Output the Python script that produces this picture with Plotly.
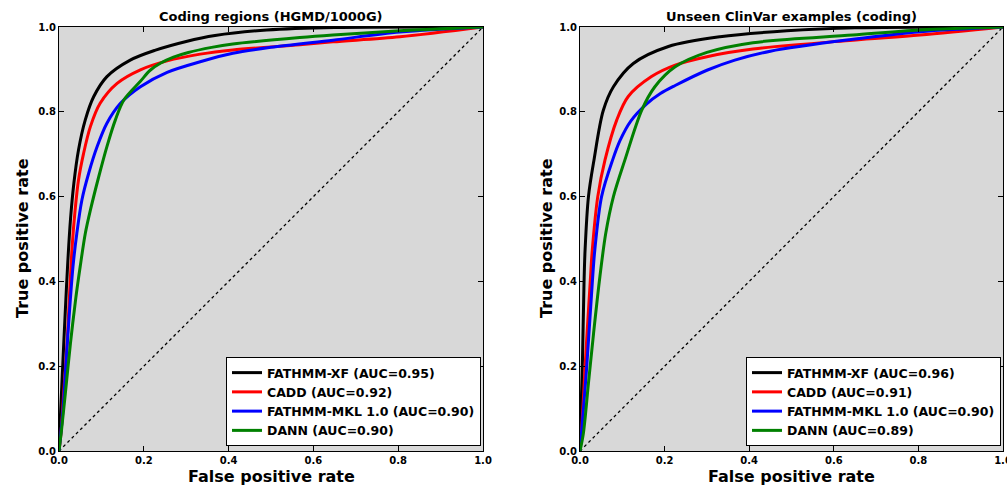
import plotly.graph_objects as go

# ---------------- data ----------------
panel_titles = ["Coding regions (HGMD/1000G)", "Unseen ClinVar examples (coding)"]
model_names = ["FATHMM-XF", "CADD", "FATHMM-MKL 1.0", "DANN"]
model_colors = ["black", "red", "blue", "green"]

auc_left = [0.95, 0.92, 0.90, 0.90]
auc_right = [0.96, 0.91, 0.90, 0.89]

# Left panel: Coding regions (HGMD/1000G)
xf_fpr_l = [0, 0.003, 0.0094, 0.015, 0.021, 0.027, 0.035, 0.046, 0.062, 0.082, 0.113, 0.168, 0.226, 0.30, 0.368, 0.49, 0.65, 1.0]
xf_tpr_l = [0, 0.073, 0.215, 0.333, 0.450, 0.545, 0.631, 0.710, 0.781, 0.836, 0.883, 0.922, 0.945, 0.966, 0.980, 0.993, 0.999, 1.0]

cadd_fpr_l = [0, 0.0047, 0.011, 0.019, 0.025, 0.031, 0.038, 0.046, 0.058, 0.074, 0.097, 0.137, 0.192, 0.255, 0.333, 0.41, 0.568, 0.646, 0.804, 1.0]
cadd_tpr_l = [0, 0.042, 0.136, 0.254, 0.372, 0.482, 0.568, 0.639, 0.702, 0.765, 0.820, 0.867, 0.899, 0.920, 0.936, 0.946, 0.958, 0.965, 0.977, 1.0]

mkl_fpr_l = [0, 0.0094, 0.017, 0.025, 0.033, 0.042, 0.054, 0.070, 0.090, 0.113, 0.145, 0.192, 0.255, 0.333, 0.41, 0.50, 0.646, 0.804, 1.0]
mkl_tpr_l = [0, 0.097, 0.215, 0.333, 0.435, 0.513, 0.592, 0.655, 0.718, 0.773, 0.820, 0.859, 0.893, 0.918, 0.938, 0.952, 0.969, 0.988, 1.0]

dann_fpr_l = [0, 0.006, 0.015, 0.027, 0.039, 0.050, 0.062, 0.074, 0.094, 0.113, 0.133, 0.153, 0.192, 0.215, 0.24, 0.27, 0.305, 0.36, 0.41, 0.568, 0.646, 0.804, 1.0]
dann_tpr_l = [0, 0.050, 0.136, 0.254, 0.356, 0.435, 0.513, 0.568, 0.648, 0.718, 0.781, 0.828, 0.872, 0.898, 0.915, 0.929, 0.940, 0.952, 0.960, 0.975, 0.981, 0.991, 1.0]

# Right panel: Unseen ClinVar examples (coding)
xf_fpr_r = [0, 0.002, 0.0055, 0.0095, 0.012, 0.020, 0.033, 0.055, 0.079, 0.126, 0.209, 0.331, 0.489, 0.65, 1.0]
xf_tpr_r = [0, 0.08, 0.199, 0.396, 0.474, 0.600, 0.686, 0.803, 0.859, 0.914, 0.954, 0.977, 0.991, 0.998, 1.0]

cadd_fpr_r = [0, 0.004, 0.012, 0.024, 0.029, 0.042, 0.059, 0.087, 0.114, 0.169, 0.225, 0.30, 0.409, 0.645, 0.804, 1.0]
cadd_tpr_r = [0, 0.05, 0.199, 0.396, 0.474, 0.600, 0.686, 0.781, 0.836, 0.883, 0.910, 0.930, 0.948, 0.969, 0.981, 1.0]

mkl_fpr_r = [0, 0.005, 0.016, 0.029, 0.035, 0.051, 0.077, 0.095, 0.120, 0.157, 0.190, 0.225, 0.30, 0.366, 0.45, 0.645, 0.804, 1.0]
mkl_tpr_r = [0, 0.06, 0.200, 0.396, 0.474, 0.600, 0.686, 0.733, 0.778, 0.818, 0.843, 0.862, 0.898, 0.922, 0.943, 0.971, 0.989, 1.0]

dann_fpr_r = [0, 0.008, 0.020, 0.032, 0.047, 0.061, 0.079, 0.106, 0.146, 0.177, 0.225, 0.30, 0.409, 0.645, 0.804, 1.0]
dann_tpr_r = [0, 0.042, 0.16, 0.277, 0.411, 0.514, 0.600, 0.686, 0.804, 0.859, 0.906, 0.940, 0.963, 0.981, 0.993, 1.0]

diag = [0, 1]
tick_vals = [0.0, 0.2, 0.4, 0.6, 0.8, 1.0]

left_curves = [(xf_fpr_l, xf_tpr_l), (cadd_fpr_l, cadd_tpr_l), (mkl_fpr_l, mkl_tpr_l), (dann_fpr_l, dann_tpr_l)]
right_curves = [(xf_fpr_r, xf_tpr_r), (cadd_fpr_r, cadd_tpr_r), (mkl_fpr_r, mkl_tpr_r), (dann_fpr_r, dann_tpr_r)]

# ---------------- figure ----------------
W, H = 1007, 488
FONT = "DejaVu Sans"
BG = "#d8d8d8"

fig = go.Figure()

panels = [
    ("x", "y", "legend", left_curves, auc_left),
    ("x2", "y2", "legend2", right_curves, auc_right),
]
for xa, ya, leg, curves, aucs in panels:
    fig.add_trace(go.Scatter(x=diag, y=diag, mode="lines", xaxis=xa, yaxis=ya,
                             line=dict(color="black", width=1.3, dash="dot"),
                             showlegend=False, hoverinfo="skip"))
    for (fx, ty), name, col, auc in zip(curves, model_names, model_colors, aucs):
        fig.add_trace(go.Scatter(x=fx, y=ty, mode="lines", xaxis=xa, yaxis=ya,
                                 name=f"{name} (AUC={auc:.2f})", legend=leg,
                                 line=dict(color=col, width=3, shape="spline", smoothing=0.9)))

def px_x(p):
    return p / W

def px_y(p):
    return 1 - p / H

left_dom = [px_x(59), px_x(483)]
right_dom = [px_x(580), px_x(1003)]
y_dom = [px_y(451), px_y(27)]

axis_common = dict(range=[0, 1], tickvals=tick_vals, tickformat=".1f",
                   showgrid=False, zeroline=False, showline=True, mirror="ticks",
                   linecolor="black", linewidth=1, ticks="inside", ticklen=5,
                   tickcolor="black", automargin=False, ticklabeloverflow="allow",
                   tickfont=dict(family=FONT, size=10, color="black", weight="bold"))

legend_common = dict(xanchor="right", yanchor="bottom",
                     bgcolor="white", bordercolor="black", borderwidth=1,
                     itemwidth=30, tracegroupgap=0,
                     font=dict(family=FONT, size=12.5, color="black", weight="bold"))

fig.update_layout(
    width=W, height=H,
    margin=dict(l=0, r=0, t=0, b=0),
    paper_bgcolor="white",
    plot_bgcolor=BG,
    xaxis=dict(domain=left_dom, anchor="y", **axis_common),
    yaxis=dict(domain=y_dom, anchor="x", **axis_common),
    xaxis2=dict(domain=right_dom, anchor="y2", **axis_common),
    yaxis2=dict(domain=y_dom, anchor="x2", **axis_common),
    legend=dict(x=px_x(481), y=px_y(446), **legend_common),
    legend2=dict(x=px_x(1001), y=px_y(446), **legend_common),
    showlegend=True,
)

ann = []
centers = [(59 + 483) / 2, (580 + 1003) / 2]
for cx, t in zip(centers, panel_titles):
    ann.append(dict(text=t, x=px_x(cx), y=px_y(16.5), xref="paper", yref="paper",
                    xanchor="center", yanchor="middle", showarrow=False,
                    font=dict(family=FONT, size=13, color="black", weight="bold")))
    ann.append(dict(text="False positive rate", x=px_x(cx), y=px_y(476), xref="paper", yref="paper",
                    xanchor="center", yanchor="middle", showarrow=False,
                    font=dict(family=FONT, size=16, color="black", weight="bold")))
for cx in [23, 547]:
    ann.append(dict(text="True positive rate", x=px_x(cx), y=px_y(238), xref="paper", yref="paper",
                    xanchor="center", yanchor="middle", showarrow=False, textangle=-90,
                    font=dict(family=FONT, size=16, color="black", weight="bold")))
fig.update_layout(annotations=ann)

fig.write_html("out.html")
